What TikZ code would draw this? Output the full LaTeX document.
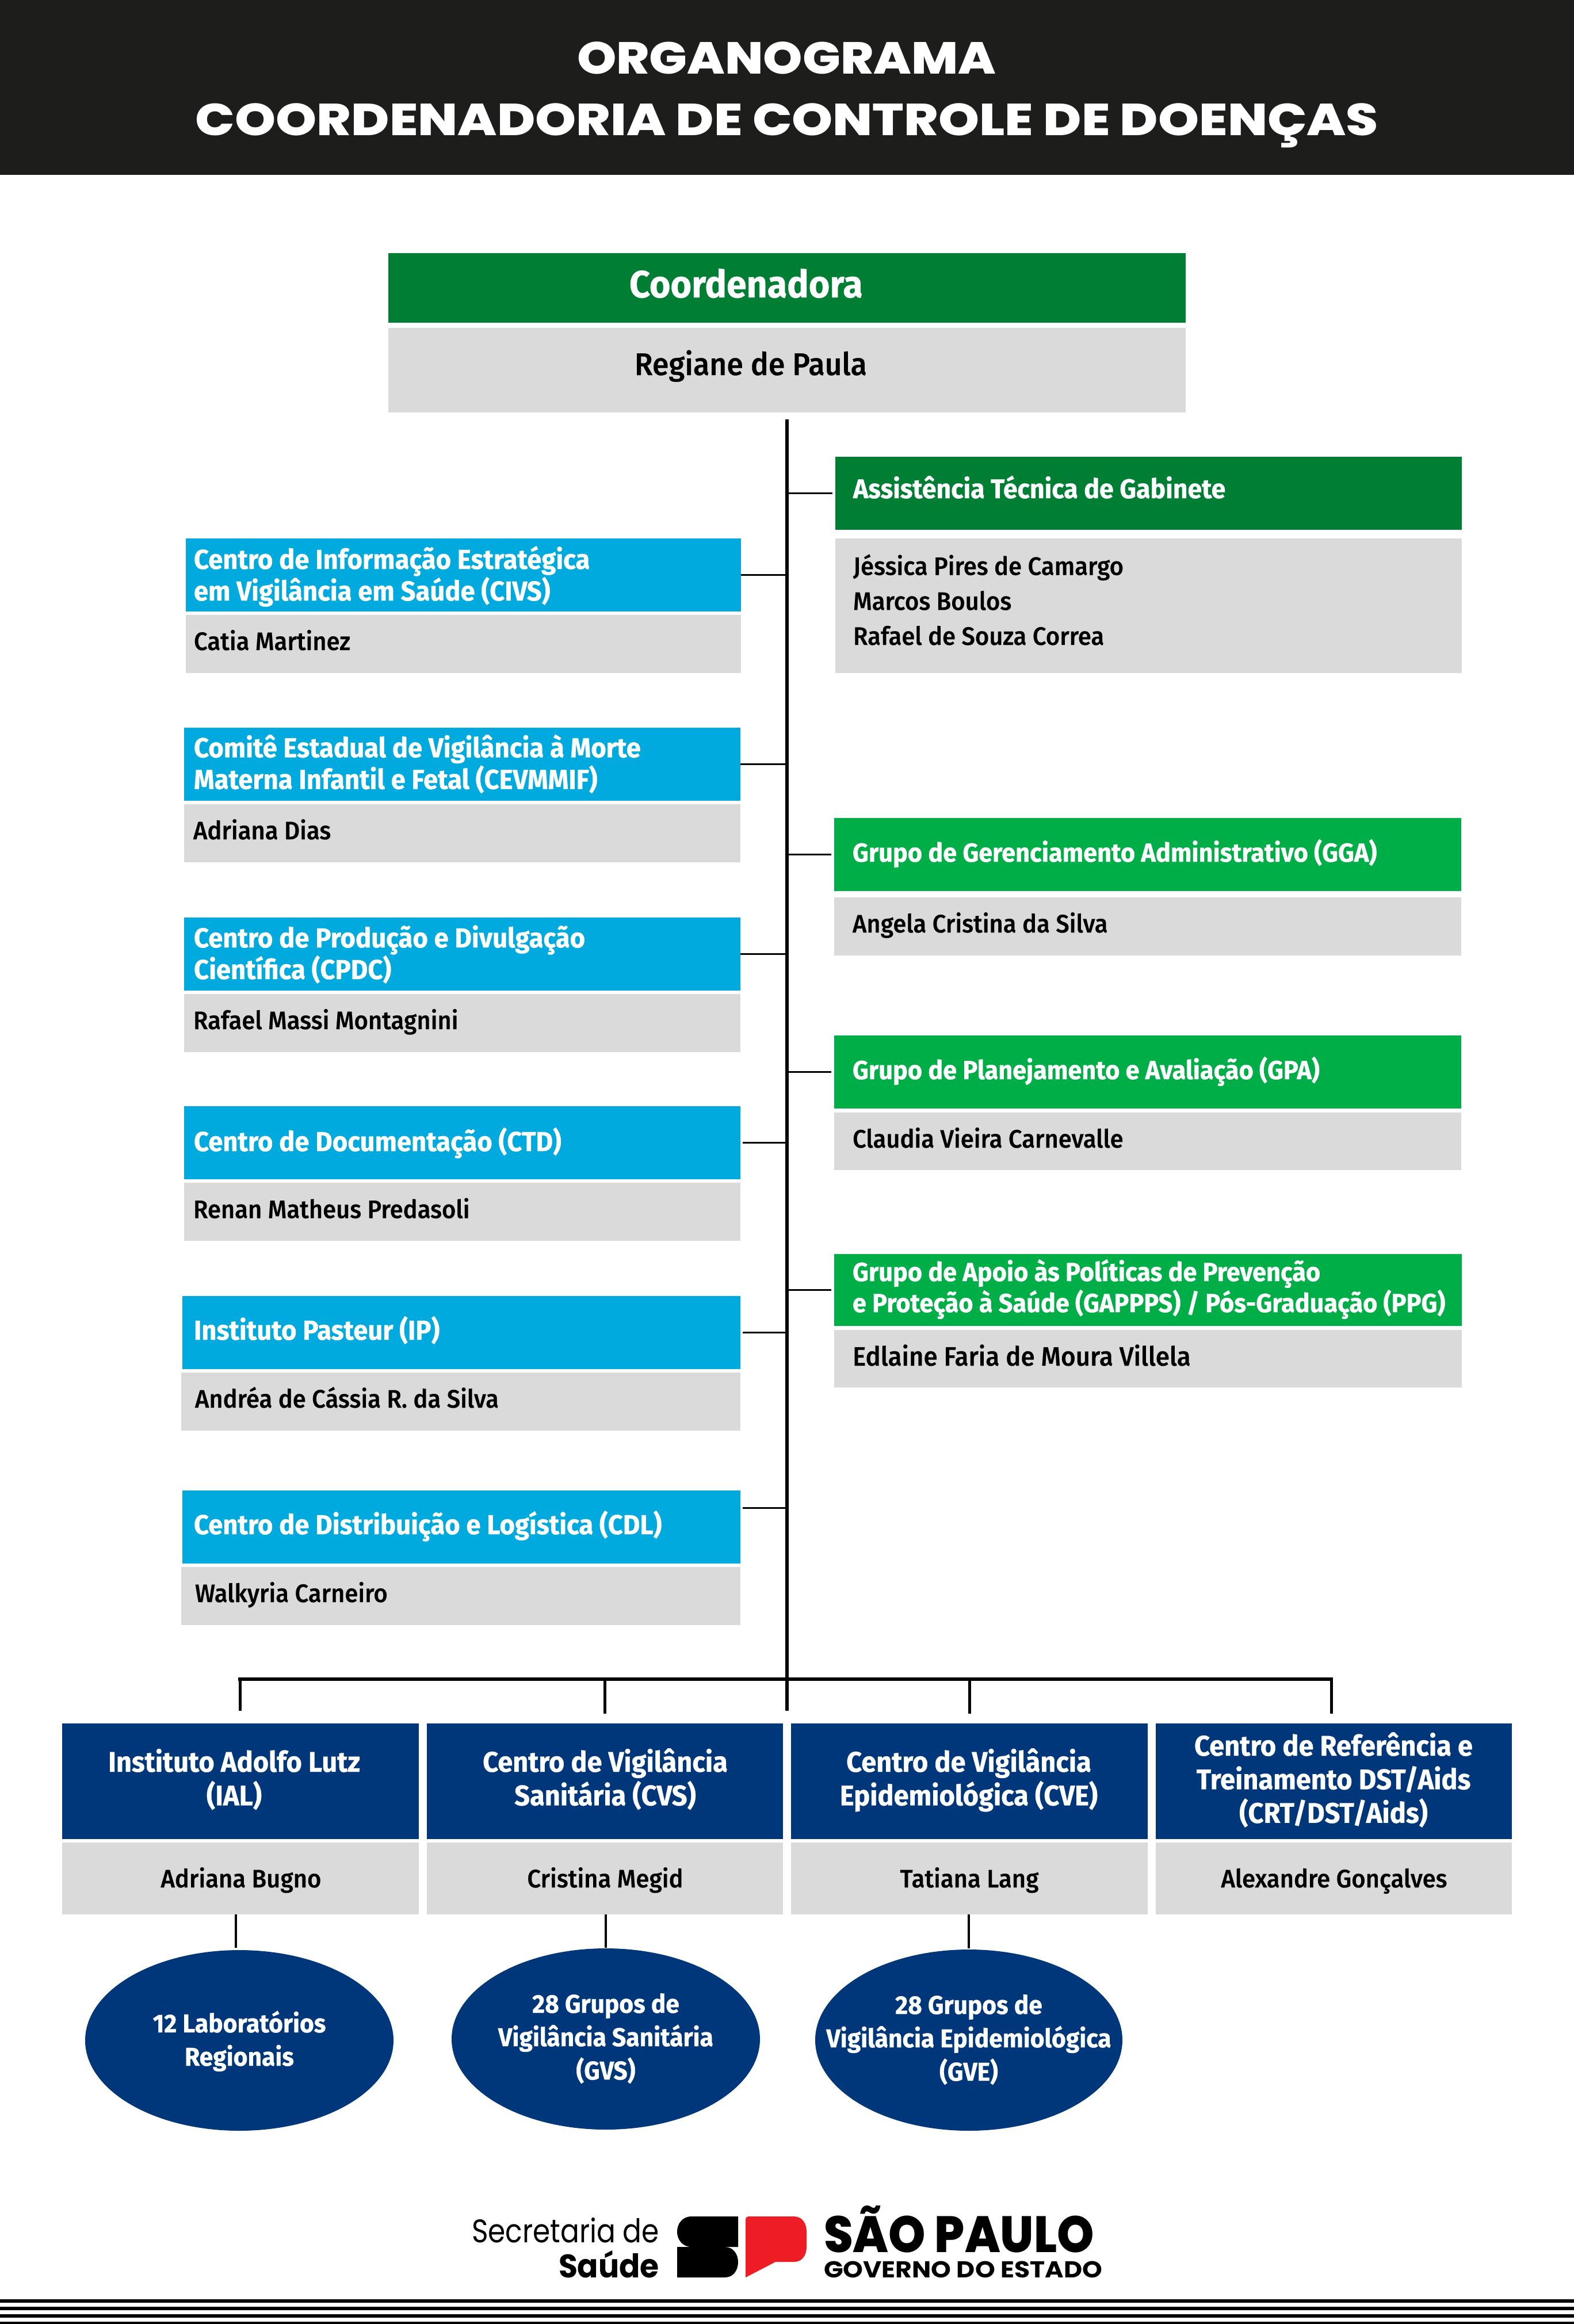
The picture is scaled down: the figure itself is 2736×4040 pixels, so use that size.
\documentclass[tikz,border=0pt]{standalone}
\usepackage{fontspec}
\usepackage{graphicx}
\usetikzlibrary{shapes.geometric}
\setmainfont{Fira Sans}
\newfontfamily\hdfont{Fira Sans Bold}[FakeStretch=0.95,FakeBold=0.6]
\newfontfamily\nmfont{Fira Sans Medium}[FakeStretch=0.95,FakeBold=0.3]
\newfontfamily\ttlfont{Poppins}
\newfontfamily\ttlheavy{Poppins ExtraBold}
\newdimen\px \px=.25pt
\definecolor{hdrblack}{HTML}{1D1D1B}
\definecolor{dkgreen}{HTML}{007F34}
\definecolor{ltgreen}{HTML}{00AE47}
\definecolor{cyanhd}{HTML}{00A9DE}
\definecolor{navyhd}{HTML}{00377B}
\definecolor{greybx}{HTML}{DADADA}
\definecolor{spred}{HTML}{EE1C25}
\tikzset{
  x=.25pt,y=-.25pt,
  basebox/.style={rectangle,draw=none,inner sep=0pt,outer sep=0pt},
  headDark/.style={basebox,fill=dkgreen,text=white,font=\hdfont\fontsize{11.75}{13.75}\selectfont},
  headLight/.style={basebox,fill=ltgreen,text=white,font=\hdfont\fontsize{11.38}{13.5}\selectfont},
  headCyan/.style={basebox,fill=cyanhd,text=white,font=\hdfont\fontsize{11.95}{13.75}\selectfont},
  headNavy/.style={basebox,fill=navyhd,text=white,font=\hdfont\fontsize{12.36}{14.6}\selectfont},
  nameBox/.style={basebox,fill=greybx,text=black,font=\nmfont\fontsize{11}{15.2}\selectfont},
  ovalNavy/.style={ellipse,draw=none,fill=navyhd,inner sep=0pt,outer sep=0pt,text=white,font=\hdfont\fontsize{11.2}{14.5}\selectfont},
  trunkline/.style={draw=black,line width=1.4pt},
  branchline/.style={draw=black,line width=.75pt},
  busline/.style={draw=black,line width=1.4pt,line cap=rect},
  dropline/.style={draw=black,line width=1.25pt},
  thinline/.style={draw=black,line width=.85pt},
  logotext/.style={inner sep=0pt,outer sep=0pt,text=black},
}
% name,x1,y1,x2,y2,style,left,baseline,text
\newcommand\orgbox[9]{%
  \node[#6,minimum width={(#4-#2)*0.25pt},minimum height={(#5-#3)*0.25pt}] (#1) at ({(#2+#4)/2},{(#3+#5)/2})
  {\rlap{\hspace*{\dimexpr #7\px-(#2\px+#4\px)/2\relax}\raisebox{\dimexpr (#3\px+#5\px)/2-#8\px\relax}[0pt][0pt]{\parbox[t]{1200\px}{\raggedright #9}}}};}
% name,x1,y1,x2,y2,style,centre x,baseline,text
\newcommand\ctrbox[9]{%
  \node[#6,minimum width={(#4-#2)*0.25pt},minimum height={(#5-#3)*0.25pt}] (#1) at ({(#2+#4)/2},{(#3+#5)/2})
  {\rlap{\hspace*{\dimexpr #7\px-(#2\px+#4\px)/2-300\px\relax}\raisebox{\dimexpr (#3\px+#5\px)/2-#8\px\relax}[0pt][0pt]{\parbox[t]{600\px}{\centering #9}}}};}
\begin{document}
\begin{tikzpicture}
\useasboundingbox (0,0) rectangle (2736,4040);
\fill[white] (0,0) rectangle (2736,4040);
% header
\fill[hdrblack] (0,0) rectangle (2736,304);
\node[logotext,text=white,anchor=base,font=\ttlheavy\fontsize{19.5}{24}\selectfont] (title1) at (1367,128) {\resizebox{728\px}{\height}{ORGANOGRAMA}};
\node[logotext,text=white,anchor=base,font=\ttlheavy\fontsize{19.5}{24}\selectfont] (title2) at (1368,235) {\resizebox{2056\px}{\height}{COORDENADORIA DE CONTROLE DE DOENÇAS}};
% coordinator
\orgbox{coordHead}{675}{440}{2061}{561}{headDark}{1094}{517}{\fontsize{16.5}{18}\selectfont Coordenadora}
\orgbox{coordName}{675}{570}{2061}{717}{nameBox}{1103}{652}{\fontsize{13.65}{16}\selectfont Regiane de Paula}
% right column
\orgbox{atgHead}{1452}{794}{2541}{921}{headDark}{1483}{866}{Assistência Técnica de Gabinete}
\orgbox{atgName}{1452}{936}{2541}{1170}{nameBox}{1483}{999.5}{Jéssica Pires de Camargo\\Marcos Boulos\\Rafael de Souza Correa}
\orgbox{ggaHead}{1450}{1422}{2540}{1549}{headLight}{1482}{1498}{Grupo de Gerenciamento Administrativo (GGA)}
\orgbox{ggaName}{1450}{1560}{2540}{1661}{nameBox}{1482}{1621}{Angela Cristina da Silva}
\orgbox{gpaHead}{1450}{1800}{2540}{1927}{headLight}{1482}{1876}{Grupo de Planejamento e Avaliação (GPA)}
\orgbox{gpaName}{1450}{1934}{2540}{2034}{nameBox}{1482}{1995}{Claudia Vieira Carnevalle}
\orgbox{ppgHead}{1450}{2180}{2541}{2305}{headLight}{1482}{2227}{Grupo de Apoio às Políticas de Prevenção\\e Proteção à Saúde (GAPPPS) / Pós-Graduação (PPG)}
\orgbox{ppgName}{1450}{2312}{2541}{2412}{nameBox}{1482}{2374}{\fontsize{11.57}{15}\selectfont Edlaine Faria de Moura Villela}
% left column
\orgbox{civsHead}{323}{936}{1288}{1063}{headCyan}{337}{989}{Centro de Informação Estratégica\\em Vigilância em Saúde (CIVS)}
\orgbox{civsName}{323}{1069}{1288}{1170}{nameBox}{337}{1130}{Catia Martinez}
\orgbox{cevHead}{320}{1265}{1287}{1392}{headCyan}{337}{1316.5}{Comitê Estadual de Vigilância à Morte\\Materna Infantil e Fetal (CEVMMIF)}
\orgbox{cevName}{320}{1398}{1287}{1499}{nameBox}{336}{1459}{Adriana Dias}
\orgbox{cpdcHead}{320}{1595}{1287}{1722}{headCyan}{337}{1647}{Centro de Produção e Divulgação\\Científica (CPDC)}
\orgbox{cpdcName}{320}{1728}{1287}{1829}{nameBox}{336}{1789}{Rafael Massi Montagnini}
\orgbox{ctdHead}{320}{1923}{1287}{2050}{headCyan}{337}{2001}{Centro de Documentação (CTD)}
\orgbox{ctdName}{320}{2056}{1287}{2157}{nameBox}{336}{2117.5}{Renan Matheus Predasoli}
\orgbox{ipHead}{317}{2253}{1287}{2380}{headCyan}{337}{2329}{Instituto Pasteur (IP)}
\orgbox{ipName}{315}{2386}{1287}{2487}{nameBox}{339}{2447}{Andréa de Cássia R. da Silva}
\orgbox{cdlHead}{317}{2591}{1287}{2718}{headCyan}{337}{2667}{Centro de Distribuição e Logística (CDL)}
\orgbox{cdlName}{315}{2724}{1287}{2825}{nameBox}{339}{2785}{Walkyria Carneiro}
% bottom row
\ctrbox{ialHead}{108}{2996}{728}{3197}{headNavy}{407}{3080}{Instituto Adolfo Lutz\\(IAL)}
\ctrbox{cvsHead}{742}{2996}{1361}{3197}{headNavy}{1052}{3080}{Centro de Vigilância\\Sanitária (CVS)}
\ctrbox{cveHead}{1375}{2996}{1995}{3197}{headNavy}{1684}{3080}{Centro de Vigilância\\Epidemiológica (CVE)}
\ctrbox{crtHead}{2009}{2996}{2628}{3197}{headNavy}{2318}{3052}{Centro de Referência e\\Treinamento DST/Aids\\(CRT/DST/Aids)}
\ctrbox{ialName}{108}{3203}{728}{3328}{nameBox}{419}{3281}{Adriana Bugno}
\ctrbox{cvsName}{742}{3203}{1361}{3328}{nameBox}{1052}{3281}{Cristina Megid}
\ctrbox{cveName}{1375}{3203}{1995}{3328}{nameBox}{1685}{3281}{Tatiana Lang}
\ctrbox{crtName}{2009}{3203}{2628}{3328}{nameBox}{2319}{3281}{Alexandre Gonçalves}
% ovals
\ctrbox{labOval}{148}{3390}{684}{3704}{ovalNavy}{416}{3533}{12 Laboratórios\\Regionais}
\ctrbox{gvsOval}{785}{3387}{1321}{3702}{ovalNavy}{1053}{3499}{28 Grupos de\\Vigilância Sanitária\\(GVS)}
\ctrbox{gveOval}{1417}{3389}{1951}{3704}{ovalNavy}{1684}{3501}{28 Grupos de\\Vigilância Epidemiológica\\(GVE)}
% connector anchors
\coordinate (trunkTop) at (1368,729);
\coordinate (trunkBot) at (1368,2974);
\coordinate (busLeft) at (417,2919);
\coordinate (busRight) at (2314,2919);
\coordinate (crtDrop) at (2314,2996);
\coordinate (cdlTap) at (1291,2621);
\coordinate (labTap) at (410,3328);
% trunk and branches
\draw[trunkline] (trunkTop) -- (trunkBot);
\draw[branchline,shorten >=1.25pt] (trunkTop |- atgHead.west) -- (atgHead.west);
\draw[branchline,shorten >=1.25pt] (trunkTop |- ggaHead.west) -- (ggaHead.west);
\draw[branchline,shorten >=1.25pt] (trunkTop |- gpaHead.west) -- (gpaHead.west);
\draw[branchline,shorten >=1.25pt] (trunkTop |- ppgHead.west) -- (ppgHead.west);
\draw[branchline] (civsHead.east) -- (civsHead.east -| trunkTop);
\draw[branchline] (cevHead.east) -- (cevHead.east -| trunkTop);
\draw[branchline] (cpdcHead.east) -- (cpdcHead.east -| trunkTop);
\draw[branchline,shorten <=1pt] (ctdHead.east) -- (ctdHead.east -| trunkTop);
\draw[branchline,shorten <=1pt] (ipHead.east) -- (ipHead.east -| trunkTop);
\draw[branchline] (cdlTap) -- (cdlTap -| trunkTop);
% bus and drops
\draw[busline] (busLeft) -- (busRight);
\draw[dropline,shorten >=5.5pt] (busLeft) -- (ialHead.north -| busLeft);
\draw[dropline,shorten >=4.25pt] (busLeft -| cvsHead.north) -- (cvsHead.north);
\draw[dropline,shorten >=4.25pt] (busLeft -| cveHead.north) -- (cveHead.north);
\draw[dropline,shorten >=4.25pt] (busRight) -- (crtDrop);
% name to oval
\draw[thinline,shorten >=1pt] (labTap) -- (labTap |- labOval.north);
\draw[thinline,shorten >=.25pt] (cvsName.south -| gvsOval.north) -- (gvsOval.north);
\draw[thinline,shorten >=.5pt] (cveName.south -| gveOval.north) -- (gveOval.north);
% logo
\fill[black] (1283,3853) -- (1283,3906) -- (1202,3906) .. controls (1186,3906) and (1177,3893) .. (1177,3879.5) .. controls (1177,3866) and (1186,3853) .. (1202,3853) -- cycle;
\fill[black] (1177,3906) -- (1260,3906) .. controls (1275,3906) and (1283,3919) .. (1283,3932.5) .. controls (1283,3946) and (1275,3959) .. (1260,3959) -- (1177,3959) -- cycle;
\fill[spred] (1296,3858) .. controls (1296,3855) and (1298,3853) .. (1301,3853) -- (1380,3853) .. controls (1394,3853) and (1402,3864) .. (1402,3880) -- (1402,3906) .. controls (1402,3921) and (1394,3932) .. (1380,3932) -- (1348,3932) -- (1296,3959) -- cycle;
\node[logotext,anchor=base east,font=\ttlfont\fontsize{14.2}{17}\selectfont] (logoSec) at (1146,3898) {\resizebox{326\px}{\height}{Secretaria de}};
\node[logotext,anchor=base east,font=\ttlfont\bfseries\fontsize{14.2}{17}\selectfont] (logoSau) at (1146,3959) {\resizebox{175\px}{\height}{Saúde}};
\node[logotext,anchor=base west,font=\ttlheavy\fontsize{22.2}{26}\selectfont] (logoSP) at (1432,3915) {\resizebox{470\px}{\height}{SÃO PAULO}};
\node[logotext,anchor=base west,font=\ttlfont\bfseries\fontsize{10}{12}\selectfont] (logoGov) at (1432,3959) {\resizebox{484\px}{\height}{GOVERNO DO ESTADO}};
% bottom stripes
\fill[black] (0,3997) rectangle (2736,4003);
\fill[black] (0,4010) rectangle (2736,4016);
\fill[black] (0,4023) rectangle (2736,4029);
\fill[black] (0,4036) rectangle (2736,4040);
\end{tikzpicture}
\end{document}
